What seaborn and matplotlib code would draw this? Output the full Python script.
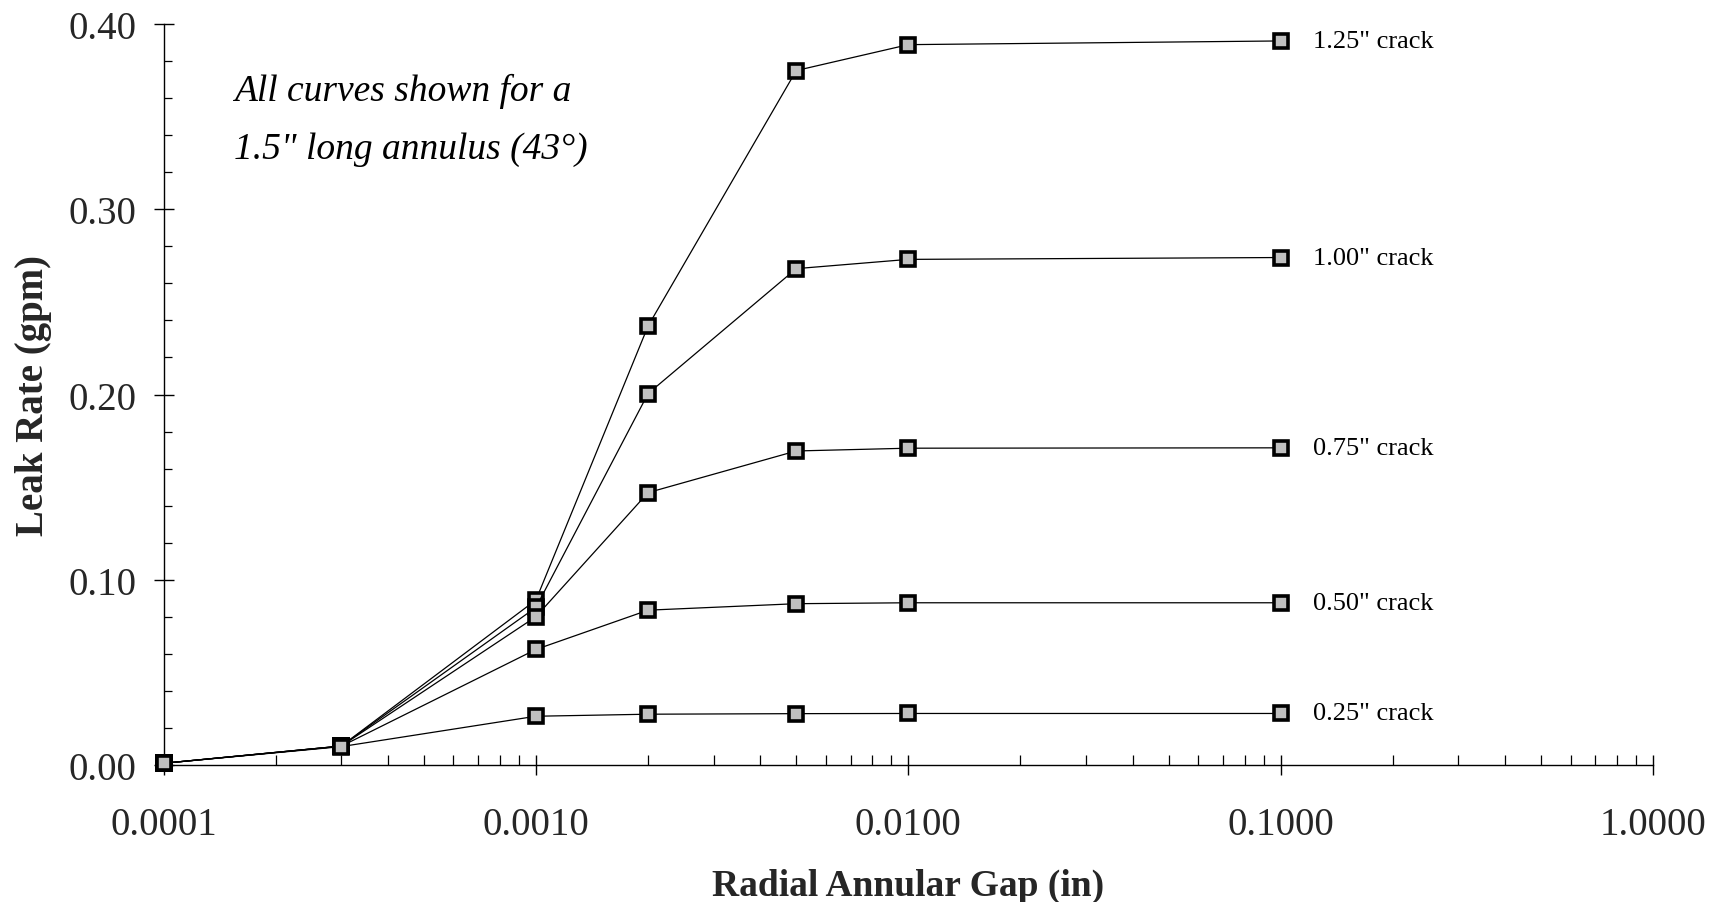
import matplotlib
matplotlib.use("Agg")
import matplotlib.pyplot as plt
import matplotlib.ticker as mticker
from matplotlib import font_manager
import numpy as np
import pandas as pd
import seaborn as sns

gaps = [0.0001, 0.0003, 0.001, 0.002, 0.005, 0.01, 0.1]
crack_labels = ['1.25" crack', '1.00" crack', '0.75" crack', '0.50" crack', '0.25" crack']
rate_125 = [0.0008, 0.0101, 0.089, 0.237, 0.375, 0.389, 0.391]
rate_100 = [0.0008, 0.0101, 0.085, 0.2005, 0.268, 0.273, 0.274]
rate_075 = [0.0008, 0.0101, 0.080, 0.147, 0.1695, 0.171, 0.1712]
rate_050 = [0.0008, 0.0100, 0.0623, 0.0835, 0.0870, 0.0875, 0.0875]
rate_025 = [0.0008, 0.0098, 0.0262, 0.0273, 0.0276, 0.0277, 0.0277]
series = [rate_125, rate_100, rate_075, rate_050, rate_025]

yticks = [0.00, 0.10, 0.20, 0.30, 0.40]
xticks = [0.0001, 0.001, 0.01, 0.1, 1.0]
xticklabels = ["0.0001", "0.0010", "0.0100", "0.1000", "1.0000"]

rows = []
for lab, vals in zip(crack_labels, series):
    for g, v in zip(gaps, vals):
        rows.append({"gap": g, "rate": v, "crack": lab})
df = pd.DataFrame(rows)

sns.set_theme(style="white")
plt.rcParams['font.family'] = ['Liberation Serif', 'DejaVu Serif']

# pick an installed serif italic face for the note
italic_fp = None
cands = [f for f in font_manager.fontManager.ttflist if f.style == "italic"]
for f in cands:
    if f.name == "Liberation Serif" and f.weight in (400, "normal", "regular"):
        italic_fp = font_manager.FontProperties(fname=f.fname)
        break
if italic_fp is None:
    italic_fp = font_manager.FontProperties(family="serif", style="italic")
italic_fp.set_size(27)

fig = plt.figure(figsize=(17.22, 9.03), dpi=100)
ax = fig.add_axes([0.095, 0.152, 0.865, 0.82])

sns.lineplot(data=df, x="gap", y="rate", hue="crack", hue_order=crack_labels,
             palette=["black"] * 5, estimator=None, sort=True, ax=ax,
             marker="s", markersize=10, markerfacecolor="#c0c0c0",
             markeredgecolor="black", markeredgewidth=2.6, linewidth=0.9,
             legend=False, clip_on=False, zorder=5)

ax.set_xscale("log")
ax.set_xlim(0.0001, 1.0)
ax.set_ylim(0, 0.40)
ax.set_xticks(xticks)
ax.set_xticklabels(xticklabels)
ax.xaxis.set_minor_locator(mticker.LogLocator(base=10, subs=np.arange(2, 10)))
ax.xaxis.set_minor_formatter(mticker.NullFormatter())
ax.set_yticks(yticks)
ax.set_yticklabels([f"{v:.2f}" for v in yticks])
ax.yaxis.set_minor_locator(mticker.MultipleLocator(0.02))

for s in ["top", "right"]:
    ax.spines[s].set_visible(False)
for s in ["left", "bottom"]:
    ax.spines[s].set_color("black")
    ax.spines[s].set_linewidth(1.0)

ax.tick_params(axis="x", which="major", direction="inout", length=15, width=1.0,
               color="black", labelsize=28, pad=22, bottom=True)
ax.tick_params(axis="x", which="minor", direction="in", length=7, width=0.9,
               color="black", bottom=True)
ax.tick_params(axis="y", which="major", direction="inout", length=15, width=1.0,
               color="black", labelsize=28, pad=12, left=True)
ax.tick_params(axis="y", which="minor", direction="in", length=6, width=0.9,
               color="black", left=True)

ax.set_xlabel("Radial Annular Gap (in)", fontsize=27, fontweight="bold", labelpad=18)
ax.set_ylabel("Leak Rate (gpm)", fontsize=28, fontweight="bold", labelpad=12)

for lab, vals in zip(crack_labels, series):
    ax.text(0.122, vals[-1], lab, fontsize=19, va="center", ha="left", color="black")

ax.text(0.047, 0.935, "All curves shown for a\n1.5\" long annulus (43°)",
        transform=ax.transAxes, fontproperties=italic_fp, va="top",
        ha="left", linespacing=1.9, color="black")

fig.savefig("out.png", dpi=100, facecolor="white")
